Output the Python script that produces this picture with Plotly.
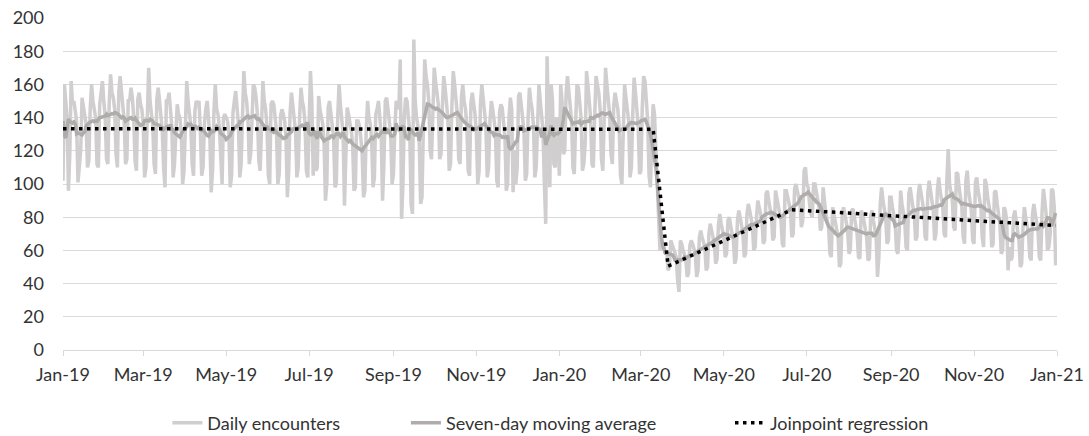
import pandas as pd
import plotly.graph_objects as go

start_2019 = "2019-01-01"
start_2020 = "2020-01-01"

daily_2019 = [
    102, 160, 150, 140, 96, 118, 162,
    148, 150, 145, 138, 101, 110, 120,
    152, 147, 141, 136, 110, 114, 145,
    160, 150, 146, 140, 112, 110, 148,
    158, 162, 150, 141, 115, 112, 149,
    166, 155, 152, 145, 118, 110, 155,
    165, 152, 147, 138, 112, 115, 151,
    150, 158, 152, 140, 114, 108, 151,
    155, 148, 145, 136, 104, 110, 154,
    170, 150, 142, 135, 112, 106, 151,
    158, 150, 140, 132, 110, 98, 150,
    150, 155, 145, 135, 104, 112, 130,
    148, 142, 140, 130, 100, 108, 142,
    162, 150, 144, 135, 112, 105, 144,
    150, 148, 150, 132, 105, 110, 136,
    145, 150, 140, 128, 95, 108, 144,
    160, 145, 142, 134, 110, 100, 140,
    142, 140, 138, 130, 98, 105, 143,
    150, 156, 146, 136, 104, 112, 141,
    168, 155, 150, 140, 112, 118, 144,
    160, 158, 152, 142, 114, 108, 139,
    162, 150, 145, 135, 105, 100, 148,
    150, 148, 140, 132, 100, 106, 141,
    145, 142, 138, 128, 92, 108, 143,
    155, 148, 142, 132, 104, 110, 140,
    158, 150, 146, 136, 108, 104, 143,
    168, 150, 105, 130, 108, 110, 153,
    145, 140, 136, 125, 90, 100, 146,
    150, 142, 138, 128, 98, 100, 140,
    160, 148, 136, 130, 87, 110, 146,
    142, 138, 132, 124, 96, 98, 138,
    138, 135, 128, 118, 92, 96, 133,
    150, 140, 136, 126, 98, 104, 142,
    145, 150, 140, 130, 90, 112, 150,
    152, 145, 138, 130, 100, 106, 132,
    150, 148, 145, 175, 79, 100, 141,
    152, 150, 140, 132, 88, 82, 187,
    150, 140, 135, 125, 88, 92, 152,
    175, 165, 160, 150, 120, 115, 151,
    170, 162, 155, 148, 115, 118, 147,
    165, 158, 150, 140, 108, 112, 147,
    168, 160, 152, 142, 115, 112, 152,
    160, 150, 145, 135, 108, 105, 149,
    155, 148, 142, 130, 100, 108, 148,
    160, 152, 146, 135, 104, 110, 138,
    150, 145, 140, 132, 102, 98, 143,
    148, 146, 138, 128, 96, 100, 140,
    152, 145, 95, 120, 100, 110, 153,
    155, 148, 142, 132, 102, 106, 139,
    158, 150, 145, 135, 104, 110, 136,
    160, 150, 142, 132, 100, 76, 177,
    140, 98, 160, 150, 112, 110, 140,
    135,
]

daily_2020 = [
    105, 160, 150, 118, 120, 155,
    165, 155, 148, 138, 110, 106, 137,
    160, 158, 150, 140, 108, 112, 124,
    168, 160, 150, 140, 112, 110, 140,
    165, 160, 155, 145, 115, 108, 146,
    170, 160, 152, 142, 118, 112, 147,
    155, 150, 145, 135, 105, 100, 134,
    160, 152, 146, 138, 104, 110, 142,
    164, 155, 145, 135, 106, 108, 146,
    165, 162, 148, 138, 105, 98, 129,
    148, 142, 120, 100, 70, 60, 66,
    64, 62, 58, 60, 48, 50, 66,
    63, 60, 58, 56, 42, 35, 66,
    64, 60, 58, 55, 44, 46, 63,
    66, 64, 60, 58, 44, 48, 68,
    72, 68, 64, 62, 48, 50, 70,
    76, 72, 68, 64, 52, 55, 75,
    82, 76, 72, 68, 56, 58, 78,
    80, 75, 70, 66, 52, 55, 78,
    84, 80, 74, 70, 56, 58, 82,
    88, 84, 78, 75, 60, 62, 80,
    90, 86, 82, 78, 64, 66, 94,
    96, 90, 85, 80, 66, 68, 96,
    92, 86, 82, 78, 64, 62, 96,
    96, 92, 88, 84, 68, 70, 97,
    100, 96, 92, 88, 74, 78, 108,
    110, 100, 98, 88, 82, 80, 100,
    100, 96, 90, 86, 72, 74, 98,
    88, 82, 78, 74, 58, 56, 86,
    82, 78, 72, 68, 50, 52, 80,
    86, 82, 76, 72, 58, 60, 84,
    85, 80, 74, 70, 56, 55, 84,
    82, 78, 72, 68, 54, 55, 81,
    84, 78, 72, 68, 44, 56, 88,
    98, 90, 84, 80, 64, 66, 92,
    92, 86, 80, 76, 60, 58, 72,
    96, 88, 82, 78, 62, 60, 94,
    98, 92, 86, 84, 66, 68, 94,
    100, 94, 88, 84, 68, 66, 95,
    102, 96, 88, 84, 66, 70, 96,
    104, 96, 90, 86, 70, 68, 102,
    121, 100, 94, 90, 74, 72, 107,
    106, 98, 92, 86, 68, 64, 102,
    108, 96, 90, 84, 66, 64, 101,
    104, 96, 90, 86, 68, 62, 103,
    100, 92, 86, 82, 62, 64, 95,
    96, 88, 82, 76, 58, 60, 86,
    84, 78, 48, 62, 54, 56, 80,
    84, 78, 72, 66, 50, 52, 74,
    86, 80, 76, 70, 56, 54, 82,
    88, 82, 76, 72, 56, 54, 83,
    97, 90, 82, 60, 62, 70, 97,
    96, 86, 51,
]

# Joinpoint regression segments (joinpoints and fitted values)
joinpoint_dates = ["2019-01-01", "2020-03-10", "2020-03-21", "2020-06-20", "2020-12-31"]
joinpoint_values = [133.3, 133.0, 50.5, 84.5, 75.0]

series_names = ["Daily encounters", "Seven-day moving average", "Joinpoint regression"]
y_ticks = [0, 20, 40, 60, 80, 100, 120, 140, 160, 180, 200]

dates = list(pd.date_range(start_2019, periods=len(daily_2019), freq="D")) + \
        list(pd.date_range(start_2020, periods=len(daily_2020), freq="D"))
daily = daily_2019 + daily_2020
s = pd.Series(daily, index=pd.DatetimeIndex(dates))
ma7 = s.rolling(7, center=True, min_periods=1).mean()

font_family = "Lato, 'Open Sans', sans-serif"
text_color = "#333333"
grid_color = "#d9d9d9"

fig = go.Figure()
fig.add_trace(go.Scatter(
    x=s.index, y=s.values, mode="lines", name=series_names[0], legend="legend",
    line=dict(color="#d0cece", width=3.5),
))
fig.add_trace(go.Scatter(
    x=ma7.index, y=ma7.values, mode="lines", name=series_names[1], legend="legend2",
    line=dict(color="#b0acac", width=3.5),
))
fig.add_trace(go.Scatter(
    x=pd.to_datetime(joinpoint_dates), y=joinpoint_values, mode="lines", name=series_names[2],
    legend="legend3",
    line=dict(color="#000000", width=3.5, dash="3.5px,4.5px"),
))

legend_common = dict(orientation="h", xanchor="left", y=-0.22, yanchor="middle",
                     font=dict(size=18, color=text_color), bgcolor="rgba(0,0,0,0)")

fig.update_layout(
    width=1089, height=436,
    margin=dict(l=63, r=32, t=18, b=86, autoexpand=False),
    paper_bgcolor="white", plot_bgcolor="white",
    font=dict(family=font_family, size=18, color=text_color),
    showlegend=True,
    legend=dict(x=0.105, **legend_common),
    legend2=dict(x=0.345, **legend_common),
    legend3=dict(x=0.671, **legend_common),
    hovermode=False,
)
fig.update_xaxes(
    range=["2019-01-01", "2021-01-01"],
    tick0="2019-01-01", dtick="M2", tickformat="%b-%y",
    ticks="outside", ticklen=5, tickcolor=grid_color, tickwidth=1,
    showline=True, linecolor=grid_color, linewidth=1,
    showgrid=False, zeroline=False,
    tickfont=dict(size=18, color=text_color),
    ticklabelstandoff=3,
)
fig.update_yaxes(
    range=[0, 200], tickvals=y_ticks,
    showgrid=True, gridcolor=grid_color, gridwidth=1,
    showline=False, zeroline=False, ticks="",
    tickfont=dict(size=18, color=text_color),
    ticklabelstandoff=18,
)

fig.write_html(
    "out.html",
    config={"displayModeBar": False},
    post_script="document.body.style.margin='0';document.body.style.overflow='hidden';",
)
